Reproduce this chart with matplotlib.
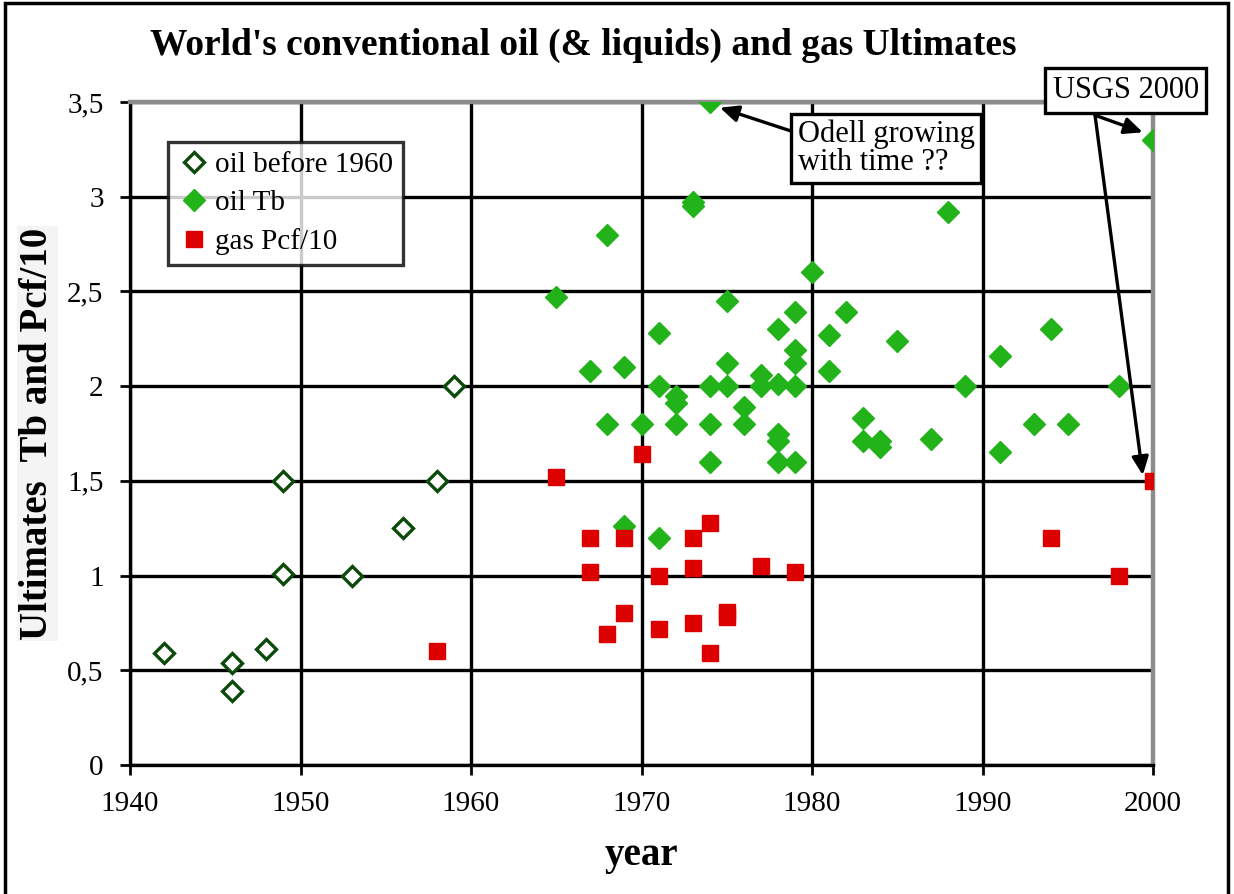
import numpy as np
import matplotlib.pyplot as plt
from matplotlib.patches import Rectangle

# ---- data: estimates of ultimate recovery by year of publication ----
oil_pre_years = [1942, 1946, 1946, 1948, 1949, 1949, 1953, 1956, 1958, 1959]
oil_pre_vals = [0.59, 0.54, 0.39, 0.61, 1.01, 1.50, 1.00, 1.25, 1.50, 2.00]

oil_tb_years = [1965, 1967, 1968, 1968, 1969, 1969, 1970, 1971, 1971, 1971,
                1972, 1972, 1972, 1973, 1973, 1974, 1974, 1974, 1974,
                1975, 1975, 1975, 1976, 1976, 1977, 1977,
                1978, 1978, 1978, 1978, 1978, 1979, 1979, 1979, 1979, 1979,
                1980, 1981, 1981, 1982, 1983, 1983, 1984, 1984, 1985, 1987,
                1988, 1989, 1991, 1991, 1993, 1994, 1995, 1998, 2000]
oil_tb_vals = [2.47, 2.08, 2.80, 1.80, 2.10, 1.26, 1.80, 2.28, 2.00, 1.20,
               1.95, 1.91, 1.80, 2.97, 2.95, 3.50, 2.00, 1.80, 1.60,
               2.45, 2.12, 2.00, 1.89, 1.80, 2.06, 2.00,
               2.30, 2.01, 1.75, 1.71, 1.60, 2.39, 2.19, 2.12, 2.00, 1.60,
               2.60, 2.27, 2.08, 2.39, 1.83, 1.71, 1.71, 1.68, 2.24, 1.72,
               2.92, 2.00, 2.16, 1.65, 1.80, 2.30, 1.80, 2.00, 3.30]

gas_years = [1958, 1965, 1967, 1967, 1968, 1969, 1969, 1970, 1971, 1971,
             1973, 1973, 1973, 1974, 1974, 1975, 1975, 1977, 1979, 1994,
             1998, 2000]
gas_vals = [0.60, 1.52, 1.20, 1.02, 0.69, 1.20, 0.80, 1.64, 1.00, 0.72,
            1.20, 1.04, 0.75, 1.28, 0.59, 0.78, 0.81, 1.05, 1.02, 1.20,
            1.00, 1.50]

x_ticks = [1940, 1950, 1960, 1970, 1980, 1990, 2000]
y_ticks = [0, 0.5, 1, 1.5, 2, 2.5, 3, 3.5]
y_tick_labels = ['0', '0,5', '1', '1,5', '2', '2,5', '3', '3,5']

plt.rcParams['font.family'] = ['Liberation Serif', 'DejaVu Serif']

fig = plt.figure(figsize=(12.34, 8.94), dpi=100)
ax = fig.add_axes([130 / 1234, 1 - 765 / 894, 1023 / 1234, 663 / 894])

dark_green = '#0b4a0b'
green = '#22b21a'
red = '#dd0000'

ax.plot(oil_pre_years, oil_pre_vals, 'D', ms=10.5, mfc='white', mec=dark_green,
        mew=2.4, ls='none', label='oil before 1960', zorder=3)
ax.plot(oil_tb_years, oil_tb_vals, 'D', ms=11.5, color=green, mec=green,
        ls='none', label='oil Tb', zorder=3)
ax.plot(gas_years, gas_vals, 's', ms=11, color=red, mec=red,
        ls='none', label='gas Pcf/10', zorder=3)

ax.set_xlim(1940, 2000)
ax.set_ylim(0, 3.5)
ax.set_xticks(x_ticks)
ax.set_yticks(y_ticks)
ax.set_yticklabels(y_tick_labels)
ax.tick_params(labelsize=21, length=7, width=2, direction='out', pad=12)
ax.grid(True, color='black', lw=2.4, zorder=1)
ax.set_axisbelow(True)

for side in ['left', 'bottom']:
    ax.spines[side].set_color('black')
    ax.spines[side].set_linewidth(2.4)
for side in ['top', 'right']:
    ax.spines[side].set_color('#8c8c8c')
    ax.spines[side].set_linewidth(3.2)

ax.set_xlabel('year', fontsize=28, fontweight='bold', labelpad=14)
ax.set_ylabel('Ultimates  Tb and Pcf/10', fontsize=28, fontweight='bold',
              labelpad=8, bbox=dict(facecolor='#f4f4f4', edgecolor='none', pad=1))

fig.text(0.473, 0.949, "World's conventional oil (& liquids) and gas Ultimates",
         ha='center', va='center', fontsize=27, fontweight='bold')

leg = ax.legend(loc='upper left', bbox_to_anchor=(0.037, 0.94), fontsize=21,
                frameon=True, fancybox=False, handletextpad=0.15,
                borderpad=0.35, labelspacing=0.4, handlelength=1.1,
                borderaxespad=0)
leg.get_frame().set_edgecolor('black')
leg.get_frame().set_linewidth(2.4)

box = dict(boxstyle='square,pad=0.2', facecolor='white', edgecolor='black', lw=2.4)
ax.text(1979.15, 3.255, 'Odell growing\nwith time ??', fontsize=22, ha='left',
        va='center', bbox=box, zorder=5, linespacing=0.95)
ax.text(1998.4, 3.56, 'USGS 2000', fontsize=22, ha='center', va='center',
        bbox=dict(boxstyle='square,pad=0.25', facecolor='white',
                  edgecolor='black', lw=2.4), zorder=5, clip_on=False)

arrow = dict(arrowstyle='-|>,head_length=1.1,head_width=0.5', color='black',
             lw=2.4, shrinkA=0, shrinkB=0)
ax.annotate('', xy=(1974.6, 3.47), xytext=(1979.0, 3.34), arrowprops=arrow,
            annotation_clip=False)
ax.annotate('', xy=(1999.4, 3.34), xytext=(1996.6, 3.43), arrowprops=arrow,
            annotation_clip=False)
ax.annotate('', xy=(1999.4, 1.53), xytext=(1996.6, 3.43), arrowprops=arrow,
            annotation_clip=False)

# outer frame around the figure
fig.patches.append(Rectangle((5 / 1234, -0.01), 1223 / 1234, 1.01 - 3 / 894,
                             transform=fig.transFigure, fill=False,
                             edgecolor='black', lw=2.5))

fig.savefig('out.png', dpi=100)
